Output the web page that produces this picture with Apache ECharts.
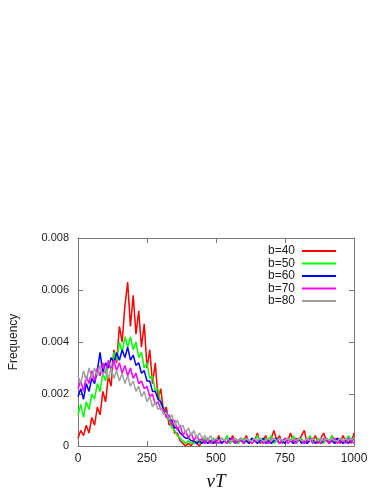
<!DOCTYPE html>
<html>
<head>
<meta charset="utf-8">
<script src="https://cdn.jsdelivr.net/npm/echarts@6/dist/echarts.min.js"></script>
<style>
  html, body { margin: 0; padding: 0; background: #fff; }
  #chart { width: 382px; height: 494px; }
</style>
</head>
<body>
<div id="chart"></div>
<script>
// bin positions (vT)
const bins = [
  0,10,20,30,40,50,60,70,80,90,
  100,110,120,130,140,150,160,170,180,190,
  200,210,220,230,240,250,260,270,280,290,
  300,310,320,330,340,350,360,370,380,390,
  400,410,420,430,440,450,460,470,480,490,
  500,510,520,530,540,550,560,570,580,590,
  600,610,620,630,640,650,660,670,680,690,
  700,710,720,730,740,750,760,770,780,790,
  800,810,820,830,840,850,860,870,880,890,
  900,910,920,930,940,950,960,970,980,990,
  1000
];

const b40 = [
  0.0003,0.0006,0.0004,0.0008,0.0005,0.0011,0.0008,0.0015,0.0012,0.0021,
  0.0017,0.0027,0.0023,0.0037,0.0032,0.0046,0.0040,0.0054,0.0063,0.0046,
  0.0058,0.0043,0.0052,0.0038,0.0047,0.0030,0.0037,0.0024,0.0032,0.0018,
  0.0022,0.0013,0.0015,0.0008,0.0010,0.0005,0.0005,0.0002,0.0001,0.0000,
  0.0001,0.0000,0.0002,0.0001,0.0000,0.0002,0.0001,0.0003,0.0001,0.0002,
  0.0001,0.0004,0.0001,0.0002,0.0003,0.0001,0.0004,0.0002,0.0001,0.0003,
  0.0002,0.0004,0.0001,0.0003,0.0002,0.0005,0.0001,0.0002,0.0004,0.0001,
  0.0003,0.0006,0.0002,0.0004,0.0001,0.0003,0.0002,0.0005,0.0001,0.0003,
  0.0002,0.0004,0.0006,0.0001,0.0003,0.0002,0.0004,0.0001,0.0003,0.0005,
  0.0002,0.0001,0.0004,0.0002,0.0003,0.0001,0.0004,0.0002,0.0003,0.0001,
  0.0005
];

const b50 = [
  0.0012,0.0016,0.0011,0.0017,0.0014,0.0020,0.0018,0.0024,0.0021,0.0028,
  0.0025,0.0032,0.0029,0.0036,0.0033,0.0040,0.0036,0.0042,0.0038,0.0042,
  0.0037,0.0040,0.0034,0.0036,0.0030,0.0032,0.0026,0.0027,0.0021,0.0022,
  0.0016,0.0015,0.0011,0.0010,0.0007,0.0006,0.0004,0.0003,0.0002,0.0001,
  0.0002,0.0001,0.0001,0.0002,0.0001,0.0002,0.0003,0.0001,0.0002,0.0003,
  0.0002,0.0001,0.0003,0.0002,0.0004,0.0001,0.0002,0.0003,0.0001,0.0002,
  0.0003,0.0002,0.0001,0.0003,0.0002,0.0004,0.0002,0.0001,0.0003,0.0002,
  0.0004,0.0001,0.0002,0.0003,0.0002,0.0001,0.0003,0.0002,0.0004,0.0001,
  0.0002,0.0003,0.0001,0.0002,0.0004,0.0002,0.0001,0.0003,0.0002,0.0001,
  0.0003,0.0002,0.0004,0.0001,0.0002,0.0003,0.0001,0.0002,0.0004,0.0002,
  0.0003
];

const b60 = [
  0.0019,0.0022,0.0018,0.0024,0.0021,0.0026,0.0024,0.0029,0.0036,0.0028,
  0.0032,0.0030,0.0034,0.0032,0.0036,0.0033,0.0037,0.0034,0.0038,0.0033,
  0.0035,0.0031,0.0032,0.0028,0.0029,0.0025,0.0025,0.0021,0.0021,0.0018,
  0.0017,0.0014,0.0013,0.0010,0.0010,0.0007,0.0007,0.0005,0.0004,0.0003,
  0.0003,0.0002,0.0002,0.0001,0.0002,0.0001,0.0002,0.0001,0.0002,0.0001,
  0.0002,0.0003,0.0001,0.0002,0.0001,0.0003,0.0002,0.0001,0.0002,0.0003,
  0.0001,0.0002,0.0001,0.0003,0.0002,0.0001,0.0002,0.0003,0.0001,0.0002,
  0.0001,0.0002,0.0003,0.0001,0.0002,0.0001,0.0003,0.0002,0.0001,0.0002,
  0.0003,0.0001,0.0002,0.0001,0.0002,0.0003,0.0001,0.0002,0.0001,0.0002,
  0.0003,0.0001,0.0002,0.0001,0.0003,0.0002,0.0001,0.0002,0.0001,0.0003,
  0.0002
];

const b70 = [
  0.0022,0.0025,0.0021,0.0027,0.0024,0.0029,0.0025,0.0030,0.0027,0.0032,
  0.0028,0.0033,0.0029,0.0033,0.0029,0.0032,0.0028,0.0031,0.0027,0.0030,
  0.0026,0.0028,0.0024,0.0025,0.0022,0.0023,0.0019,0.0020,0.0016,0.0017,
  0.0014,0.0014,0.0011,0.0012,0.0008,0.0010,0.0006,0.0008,0.0004,0.0006,
  0.0003,0.0005,0.0002,0.0004,0.0002,0.0003,0.0001,0.0003,0.0001,0.0002,
  0.0002,0.0001,0.0003,0.0002,0.0001,0.0002,0.0003,0.0001,0.0002,0.0002,
  0.0001,0.0003,0.0002,0.0001,0.0002,0.0002,0.0003,0.0001,0.0002,0.0001,
  0.0002,0.0003,0.0002,0.0001,0.0002,0.0003,0.0001,0.0002,0.0002,0.0001,
  0.0003,0.0002,0.0001,0.0002,0.0003,0.0001,0.0002,0.0002,0.0001,0.0003,
  0.0002,0.0001,0.0002,0.0003,0.0001,0.0002,0.0002,0.0001,0.0003,0.0002,
  0.0001
];

const b80 = [
  0.0027,0.0024,0.0029,0.0025,0.0030,0.0026,0.0030,0.0027,0.0031,0.0027,
  0.0030,0.0026,0.0030,0.0026,0.0029,0.0025,0.0028,0.0024,0.0027,0.0023,
  0.0025,0.0021,0.0023,0.0019,0.0021,0.0017,0.0019,0.0015,0.0017,0.0014,
  0.0015,0.0012,0.0013,0.0010,0.0012,0.0008,0.0010,0.0007,0.0008,0.0005,
  0.0007,0.0004,0.0006,0.0003,0.0005,0.0003,0.0004,0.0002,0.0004,0.0002,
  0.0003,0.0002,0.0003,0.0002,0.0003,0.0002,0.0002,0.0003,0.0002,0.0003,
  0.0002,0.0003,0.0002,0.0002,0.0003,0.0002,0.0003,0.0002,0.0002,0.0003,
  0.0002,0.0003,0.0002,0.0003,0.0002,0.0002,0.0003,0.0002,0.0003,0.0002,
  0.0003,0.0002,0.0002,0.0003,0.0002,0.0003,0.0002,0.0002,0.0003,0.0002,
  0.0003,0.0002,0.0003,0.0002,0.0002,0.0003,0.0002,0.0003,0.0002,0.0003,
  0.0002
];

const seriesNames = ['b=40', 'b=50', 'b=60', 'b=70', 'b=80'];
const seriesData = [b40, b50, b60, b70, b80];
const colors = ['#ff0000', '#00ff00', '#0000ff', '#ff00ff', '#a0a0a0'];

const xTicks = [0, 250, 500, 750, 1000];
const yTicks = [0, 0.002, 0.004, 0.006, 0.008];

const chart = echarts.init(document.getElementById('chart'), null, { renderer: 'canvas' });

const frame = { show: true, onZero: false, lineStyle: { color: '#777', width: 1 } };
const ticksIn = { show: true, inside: true, length: 5, lineStyle: { color: '#777' } };
const font = 'Liberation Sans, Arial, sans-serif';

var option = {
  animation: false,
  color: colors,
  grid: { left: 78, right: 28, top: 238, bottom: 48, containLabel: false },
  legend: {
    data: seriesNames.map(function (n) { return { name: n, icon: 'rect' }; }),
    orient: 'vertical',
    align: 'right',
    right: 41,
    top: 240,
    itemWidth: 34,
    itemHeight: 2,
    itemGap: 0.5,
    textStyle: { fontSize: 12, lineHeight: 12, color: '#222', fontFamily: font, padding: [0, 2, 0, 0] }
  },
  xAxis: [
    {
      type: 'value', min: xTicks[0], max: xTicks[xTicks.length - 1], interval: 250,
      axisLine: frame, axisTick: ticksIn, splitLine: { show: false },
      axisLabel: { fontSize: 12, color: '#222', fontFamily: font, margin: 7,
        formatter: function (v) { return String(v); } },
      name: 'νT', nameLocation: 'middle', nameGap: 26,
      nameTextStyle: { fontSize: 19, fontStyle: 'italic', fontFamily: 'Liberation Serif, serif', color: '#111' }
    },
    {
      type: 'value', position: 'top', min: 0, max: 1000, interval: 250,
      axisLine: frame, axisTick: ticksIn, splitLine: { show: false }, axisLabel: { show: false }
    }
  ],
  yAxis: [
    {
      type: 'value', min: yTicks[0], max: yTicks[yTicks.length - 1], interval: 0.002,
      axisLine: frame, axisTick: ticksIn, splitLine: { show: false },
      axisLabel: { fontSize: 11, color: '#222', fontFamily: font, margin: 9 },
      name: 'Frequency', nameLocation: 'middle', nameGap: 58, nameRotate: 90,
      nameTextStyle: { fontSize: 12, color: '#222', fontFamily: font }
    },
    {
      type: 'value', position: 'right', min: 0, max: 0.008, interval: 0.002,
      axisLine: frame, axisTick: ticksIn, splitLine: { show: false }, axisLabel: { show: false }
    }
  ],
  series: seriesNames.map(function (name, i) {
    return {
      name: name,
      type: 'line',
      showSymbol: false,
      symbol: 'none',
      z: 2 + i,
      lineStyle: { width: 1.5, color: colors[i] },
      itemStyle: { color: colors[i] },
      data: bins.map(function (x, k) { return [x, seriesData[i][k]]; })
    };
  })
};

chart.setOption(option);
</script>
</body>
</html>
